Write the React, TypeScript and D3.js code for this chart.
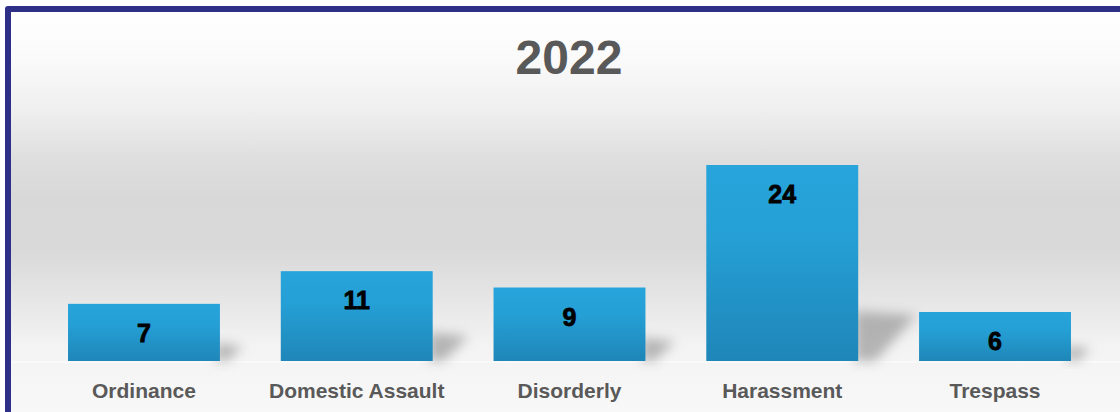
import React from "react";
import * as d3 from "d3";

const title = "2022";
const categories = ["Ordinance", "Domestic Assault", "Disorderly", "Harassment", "Trespass"];
const values = [7, 11, 9, 24, 6];

const W = 1120;
const H = 412;
const baseline = 361;

export default function App() {
  const x = d3.scaleBand<string>().domain(categories).range([37.6, 1101.4]).paddingInner(0.286).paddingOuter(0.143);
  const y = d3.scaleLinear().domain([0, 24]).range([baseline, 165]);
  const bw = x.bandwidth();

  return (
    <svg width={W} height={H} style={{ position: "absolute", left: 0, top: 0, display: "block" }}>
      <defs>
        <linearGradient id="bg" x1="0" y1="0" x2="0" y2={H} gradientUnits="userSpaceOnUse">
          <stop offset={12 / H} stopColor="#ffffff" />
          <stop offset={60 / H} stopColor="#fafafa" />
          <stop offset={110 / H} stopColor="#efefef" />
          <stop offset={160 / H} stopColor="#dedede" />
          <stop offset={200 / H} stopColor="#d8d8d8" />
          <stop offset={250 / H} stopColor="#d9d9d9" />
          <stop offset={300 / H} stopColor="#e6e6e6" />
          <stop offset={345 / H} stopColor="#f3f3f3" />
          <stop offset={1} stopColor="#f8f8f8" />
        </linearGradient>
        <linearGradient id="bar" x1="0" y1="0" x2="0" y2="1">
          <stop offset="0" stopColor="#27a4db" />
          <stop offset="0.35" stopColor="#25a0d6" />
          <stop offset="1" stopColor="#1f86b8" />
        </linearGradient>
        <filter id="blur" x="-50%" y="-50%" width="200%" height="200%">
          <feGaussianBlur stdDeviation="6" />
        </filter>
      </defs>
      <rect x={5} y={6} width={W + 20} height={H + 20} rx={3} fill="#2e3088" />
      <rect x={11} y={12} width={W + 20} height={H + 20} fill="url(#bg)" />
      <line x1={11} x2={W} y1={baseline + 1} y2={baseline + 1} stroke="#fbfbfb" strokeWidth={1.5} />
      <text
        x={569}
        y={74}
        textAnchor="middle"
        fontFamily="'Liberation Sans', Arial, sans-serif"
        fontWeight="bold"
        fontSize={48}
        fill="#595959"
      >
        {title}
      </text>
      {categories.map((c, i) => {
        const x0 = x(c)!;
        const top = y(values[i]);
        const h = baseline - top;
        const sh = Math.min(h * 0.32, 50);
        const sw = Math.min(h * 0.4, 58);
        const xr = x0 + bw;
        const pts = [
          [xr - 4, baseline],
          [xr - 4, baseline - sh],
          [xr + sw, baseline - sh + 4],
          [xr + sw * 0.3, baseline],
        ];
        return (
          <g key={c}>
            <polygon points={pts.map((p) => p.join(",")).join(" ")} fill="#8a8a8a" opacity={0.6} filter="url(#blur)" />
            <rect x={x0} y={top} width={bw} height={h} fill="url(#bar)" />
            <text
              x={x0 + bw / 2}
              y={top + 38}
              textAnchor="middle"
              fontFamily="'Liberation Sans', Arial, sans-serif"
              fontWeight="bold"
              fontSize={25}
              fill="#000"
              stroke="#000"
              strokeWidth={0.8}
            >
              {values[i]}
            </text>
            <text
              x={x0 + bw / 2}
              y={398}
              textAnchor="middle"
              fontFamily="'Liberation Sans', Arial, sans-serif"
              fontWeight="bold"
              fontSize={21}
              fill="#595959"
            >
              {c}
            </text>
          </g>
        );
      })}
    </svg>
  );
}
